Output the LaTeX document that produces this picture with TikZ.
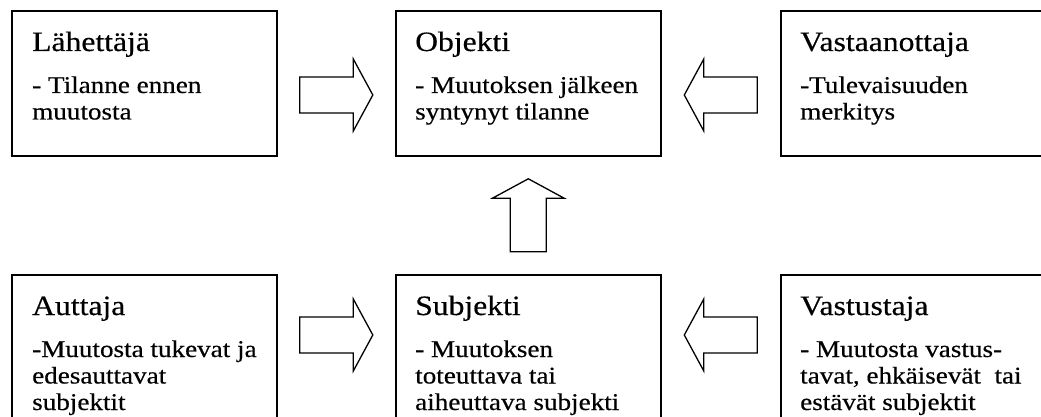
\documentclass[tikz,border=0pt]{standalone}
\usepackage{fontspec}
\usepackage{graphicx}
\setmainfont[FakeBold=0.4]{Liberation Serif}
\usetikzlibrary{calc}

% Card text: a large heading, then body lines; the first baseline sits at
% the anchor, and the whole block is set a little wide
\newcommand\cardtext[2]{\scalebox{1.13}[1]{\vtop{\baselineskip=26.5pt
  \hbox{\fontsize{28}{30}\selectfont #1}\vskip15.5pt #2}}}
\newcommand\tline[1]{\hbox{#1}}

\tikzset{
  card/.style={draw, line width=1.6pt, rectangle, inner sep=0pt,
    minimum width=265pt, minimum height=145pt, anchor=north west},
  lowcard/.style={card, minimum height=160pt},
  cardlabel/.style={anchor=base west, inner sep=0pt,
    font=\fontsize{24}{26.5}\selectfont},
  blockarrow/.style={draw, line width=1.3pt, line join=miter},
  pics/fatarrow/.style={code={
    \draw[blockarrow] (-36.5,-18) -- (17,-18) -- (17,-36) -- (36.5,0)
      -- (17,36) -- (17,18) -- (-36.5,18) -- cycle;}}
}

\begin{document}
\begin{tikzpicture}[x=1pt, y=-1pt]
\useasboundingbox (0,0) rectangle (1041,417);

% upper row
\node[card] (lah) at (11,10) {};
\node[card] (obj) at (395,10) {};
\node[card] (vas) at (780,10) {};
% lower row
\node[lowcard] (aut) at (11,274) {};
\node[lowcard] (sub) at (395,274) {};
\node[lowcard] (vst) at (780,274) {};

\node[cardlabel] (lah-t) at ([shift={(21,41)}]lah.north west)
  {\cardtext{Lähettäjä}{\tline{- Tilanne ennen}\tline{muutosta}}};
\node[cardlabel] (obj-t) at ([shift={(20,41)}]obj.north west)
  {\cardtext{Objekti}{\tline{- Muutoksen jälkeen}\tline{syntynyt tilanne}}};
\node[cardlabel] (vas-t) at ([shift={(20,41)}]vas.north west)
  {\cardtext{Vastaanottaja}{\tline{-Tulevaisuuden}\tline{merkitys}}};
\node[cardlabel] (aut-t) at ([shift={(21,41)}]aut.north west)
  {\cardtext{Auttaja}{\tline{-Muutosta tukevat ja}\tline{edesauttavat}\tline{subjektit}}};
\node[cardlabel] (sub-t) at ([shift={(20,41)}]sub.north west)
  {\cardtext{Subjekti}{\tline{- Muutoksen}\tline{toteuttava tai}\tline{aiheuttava subjekti}}};
\node[cardlabel] (vst-t) at ([shift={(20,41)}]vst.north west)
  {\cardtext{Vastustaja}{\tline{- Muutosta vastus-}\tline{tavat, ehkäisevät\ \ tai}\tline{estävät subjektit}}};

% block arrows between the cards
\coordinate (a1) at ($($(lah.north east)!0.5!(obj.north west)$)+(0,85)$);
\coordinate (a2) at ($($(obj.north east)!0.5!(vas.north west)$)+(0,85)$);
\coordinate (a3) at ($($(aut.north east)!0.5!(sub.north west)$)+(0,61)$);
\coordinate (a4) at ($($(sub.north east)!0.5!(vst.north west)$)+(0,61)$);
\coordinate (a5) at ($(obj.south)!0.5!(sub.north)$);
\pic at (a1) {fatarrow};
\pic[rotate=180] at (a2) {fatarrow};
\pic at (a3) {fatarrow};
\pic[rotate=180] at (a4) {fatarrow};
\pic[rotate=90] at (a5) {fatarrow};
\end{tikzpicture}
\end{document}
